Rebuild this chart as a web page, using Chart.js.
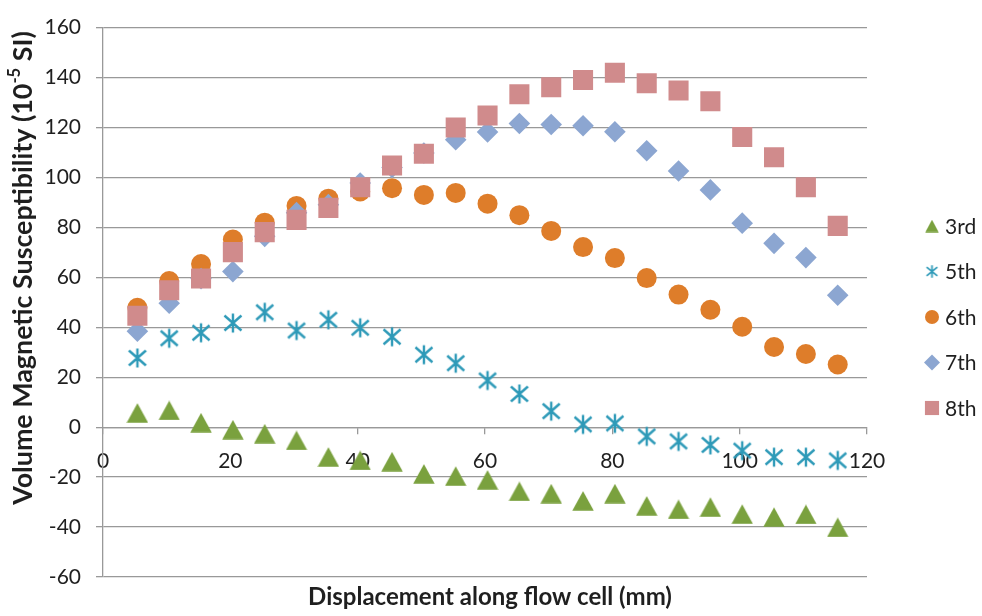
<!DOCTYPE html>
<html>
<head>
<meta charset="utf-8">
<script src="https://cdn.jsdelivr.net/npm/chart.js@4.4.1/dist/chart.umd.min.js"></script>
<style>
  html, body { margin: 0; padding: 0; background: #ffffff; }
  #wrap { width: 982px; height: 616px; }
</style>
</head>
<body>
<div id="wrap"><canvas id="c" width="982" height="616"></canvas></div>
<script>
// Displacement along the flow cell (mm)
const displacement = [5.4, 10.4, 15.4, 20.4, 25.4, 30.4, 35.4, 40.4, 45.4, 50.4, 55.4, 60.4,
                      65.4, 70.4, 75.4, 80.4, 85.4, 90.4, 95.4, 100.4, 105.4, 110.4, 115.4];

// Volume magnetic susceptibility (10^-5 SI) per run
const run3rd = [5.7, 6.7, 1.8, -1.0, -2.6, -5.3, -11.9, -13.3, -13.8, -18.7, -19.6, -21.1,
                -25.7, -26.6, -29.5, -26.6, -31.5, -32.9, -32.0, -34.8, -36.0, -34.9, -40.1];
const run5th = [27.7, 35.6, 37.8, 41.7, 46.0, 38.7, 43.0, 39.8, 36.2, 29.0, 25.6, 18.7,
                13.3, 6.4, 1.1, 1.5, -3.7, -5.7, -7.1, -9.4, -12.0, -12.0, -13.3];
const run6th = [47.8, 58.5, 65.3, 75.1, 81.9, 88.6, 91.5, 94.4, 95.7, 93.0, 93.8, 89.5,
                84.9, 78.6, 72.1, 67.7, 59.7, 53.1, 47.0, 40.2, 32.1, 29.3, 25.1];
const run7th = [38.4, 49.6, 59.5, 62.3, 76.4, 85.9, 89.1, 97.8, 104.0, 109.8, 115.1, 118.2,
                121.6, 121.2, 120.7, 118.3, 110.7, 102.6, 95.0, 81.7, 73.6, 67.9, 52.8];
const run8th = [44.6, 54.8, 59.5, 70.1, 78.1, 83.0, 87.8, 96.1, 104.8, 109.5, 120.0, 124.8,
                133.3, 136.1, 139.0, 141.9, 137.7, 134.8, 130.5, 116.2, 108.1, 96.1, 80.6];

const seriesNames = ['3rd', '5th', '6th', '7th', '8th'];
const seriesValues = [run3rd, run5th, run6th, run7th, run8th];

const xTicks = { min: 0, max: 120, step: 20 };
const yTicks = { min: -60, max: 160, step: 20 };

const xTitle = 'Displacement along flow cell (mm)';
const yTitle = ['Volume Magnetic Susceptibility (10', '-5', ' SI)'];

const FONT = 'Lato, "Open Sans", "Liberation Sans", sans-serif';
const TEXT = '#1f1f1f';
const GRID = '#999999';

const COLORS = ['#7aa13e', '#2e9ab8', '#de7d2a', '#8ca6d1', '#d08b8c'];

// Triangle whose bounding box is centred on the point
function triangleMarker(w, h, color) {
  const c = document.createElement('canvas');
  c.width = w; c.height = h;
  const g = c.getContext('2d');
  g.fillStyle = color;
  g.beginPath();
  g.moveTo(w / 2, 0.3);
  g.lineTo(w - 0.3, h - 0.3);
  g.lineTo(0.3, h - 0.3);
  g.closePath();
  g.fill();
  return c;
}

// Asterisk: vertical stroke plus an X
function starMarker(s, color, lw) {
  const c = document.createElement('canvas');
  c.width = s; c.height = s;
  const g = c.getContext('2d');
  g.strokeStyle = color;
  g.lineWidth = lw;
  g.lineCap = 'butt';
  const m = s / 2, p = lw / 2 + 0.3;
  g.beginPath();
  g.moveTo(m, p); g.lineTo(m, s - p);
  g.moveTo(p + 1, p + 2); g.lineTo(s - p - 1, s - p - 2);
  g.moveTo(s - p - 1, p + 2); g.lineTo(p + 1, s - p - 2);
  g.stroke();
  return c;
}

const pointStyles = [
  triangleMarker(22, 20, COLORS[0]),
  starMarker(22, COLORS[1], 2.4),
  'circle',
  'rectRot',
  'rect'
];
const pointRadii = [10, 10, 10, 10.8, 14.2];

const legendStyles = [
  triangleMarker(14, 13, COLORS[0]),
  starMarker(15, COLORS[1], 1.7),
  'circle',
  'rectRot',
  'rect'
];
const legendRadii = [7, 7, 7, 8, 10];

const datasets = seriesNames.map((name, i) => ({
  label: name,
  data: displacement.map((x, k) => ({ x: x, y: seriesValues[i][k] })),
  pointStyle: pointStyles[i],
  pointRadius: pointRadii[i],
  pointHoverRadius: pointRadii[i],
  backgroundColor: COLORS[i],
  borderColor: COLORS[i],
  borderWidth: 0,
  showLine: false,
  order: seriesNames.length - i
}));

// font size that makes a string span the given length
function fitSize(ctx, parts, target, base) {
  let w = 0;
  parts.forEach(p => {
    ctx.font = 'bold ' + (base * p.scale) + 'px ' + FONT;
    w += ctx.measureText(p.text).width;
  });
  return base * target / w;
}

// Axis titles and the series key
const annotations = {
  id: 'annotations',
  afterDraw(chart) {
    const ctx = chart.ctx;
    ctx.save();
    ctx.fillStyle = TEXT;

    // x-axis title
    const xs = fitSize(ctx, [{ text: xTitle, scale: 1 }], 364, 20);
    ctx.font = 'bold ' + xs + 'px ' + FONT;
    ctx.textAlign = 'center';
    ctx.textBaseline = 'middle';
    ctx.fillText(xTitle, 490, 597);

    // y-axis title with superscript exponent
    const ratio = 0.62;
    const ys = fitSize(ctx, [{ text: yTitle[0], scale: 1 }, { text: yTitle[1], scale: ratio }, { text: yTitle[2], scale: 1 }], 474, 20);
    const big = 'bold ' + ys + 'px ' + FONT;
    const small = 'bold ' + (ys * ratio) + 'px ' + FONT;
    ctx.font = big;
    const wA = ctx.measureText(yTitle[0]).width;
    const wC = ctx.measureText(yTitle[2]).width;
    ctx.font = small;
    const wB = ctx.measureText(yTitle[1]).width;
    const total = wA + wB + wC;
    ctx.translate(23, 268);
    ctx.rotate(-Math.PI / 2);
    ctx.textAlign = 'left';
    ctx.textBaseline = 'middle';
    const x0 = -total / 2;
    ctx.font = big;
    ctx.fillText(yTitle[0], x0, 0);
    ctx.font = small;
    ctx.fillText(yTitle[1], x0 + wA, -ys * 0.3);
    ctx.font = big;
    ctx.fillText(yTitle[2], x0 + wA + wB, 0);
    ctx.restore();

    // key
    ctx.save();
    const top = 226, gap = 45.5;
    seriesNames.forEach((name, i) => {
      const y = top + i * gap;
      ctx.fillStyle = COLORS[i];
      ctx.strokeStyle = COLORS[i];
      Chart.helpers.drawPoint(ctx, { pointStyle: legendStyles[i], radius: legendRadii[i], borderWidth: 0, rotation: 0 }, 932, y);
      ctx.fillStyle = TEXT;
      ctx.font = '21px ' + FONT;
      ctx.textAlign = 'left';
      ctx.textBaseline = 'middle';
      ctx.fillText(name, 945, y + 1);
    });
    ctx.restore();
  }
};

new Chart(document.getElementById('c'), {
  type: 'scatter',
  data: { datasets: datasets },
  options: {
    responsive: false,
    animation: false,
    devicePixelRatio: 1,
    events: [],
    layout: { padding: { top: 17, right: 115, bottom: 39, left: 0 } },
    plugins: {
      legend: { display: false },
      tooltip: { enabled: false },
      title: { display: false }
    },
    scales: {
      x: {
        type: 'linear',
        min: xTicks.min,
        max: xTicks.max,
        position: { y: 0 },
        ticks: {
          stepSize: xTicks.step,
          color: TEXT,
          font: { family: FONT, size: 21 },
          padding: 15,
          maxRotation: 0
        },
        grid: { drawOnChartArea: false, drawTicks: true, tickLength: 6, color: GRID, lineWidth: 1.3 },
        border: { display: true, color: GRID, width: 1.3 }
      },
      y: {
        type: 'linear',
        min: yTicks.min,
        max: yTicks.max,
        ticks: {
          stepSize: yTicks.step,
          color: TEXT,
          font: { family: FONT, size: 21 },
          padding: 15
        },
        grid: { color: GRID, lineWidth: 1.3, tickLength: 7 },
        border: { display: true, color: GRID, width: 1.3 },
        afterFit(scale) { scale.width = 103; }
      }
    }
  },
  plugins: [annotations]
});
</script>
</body>
</html>
